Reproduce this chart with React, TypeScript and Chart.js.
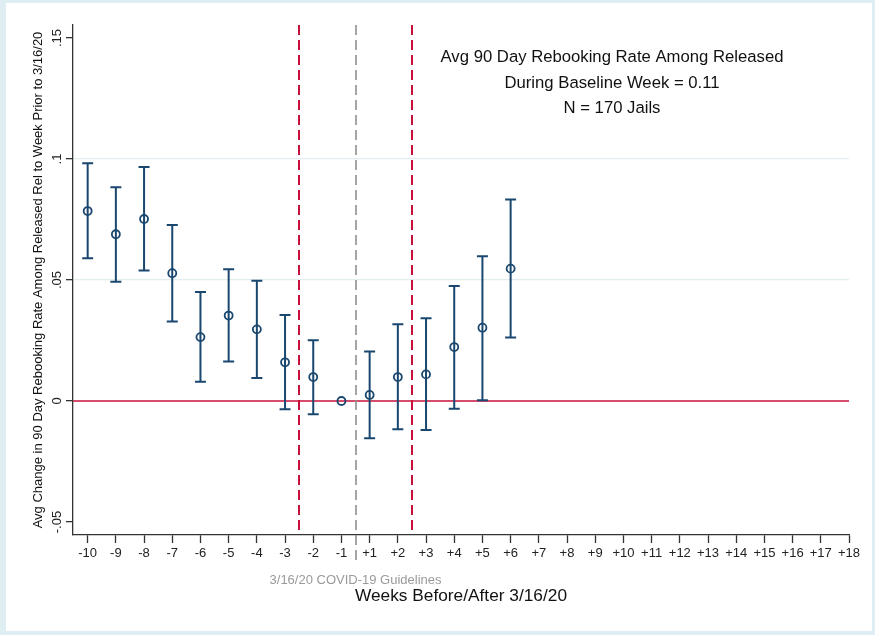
import { useEffect, useRef } from 'react';
import { Chart, registerables } from 'chart.js';

Chart.register(...registerables);

// Event-time labels (weeks relative to 3/16/20)
const weekLabels = [
  '-10', '-9', '-8', '-7', '-6', '-5', '-4', '-3', '-2', '-1',
  '+1', '+2', '+3', '+4', '+5', '+6', '+7', '+8', '+9', '+10',
  '+11', '+12', '+13', '+14', '+15', '+16', '+17', '+18',
];

// Point estimates and 95% CI bounds for weeks -10 .. +6 (week -1 is the baseline)
const estimate = [0.0785, 0.0689, 0.0752, 0.0528, 0.0264, 0.0353, 0.0296, 0.016, 0.0099, 0, 0.0025, 0.0099, 0.011, 0.0223, 0.0303, 0.0547];
const ciLow = [0.059, 0.0493, 0.0539, 0.0328, 0.008, 0.0163, 0.0095, -0.0034, -0.0055, null, -0.0154, -0.0117, -0.012, -0.0032, 0.0003, 0.0262];
const ciHigh = [0.0982, 0.0883, 0.0967, 0.0727, 0.045, 0.0544, 0.0497, 0.0355, 0.0251, null, 0.0205, 0.0317, 0.0342, 0.0475, 0.0598, 0.0833];

const yTicks = [-0.05, 0, 0.05, 0.1, 0.15];
const yTickLabels = ['-.05', '0', '.05', '.1', '.15'];
const yGridValues = [0.05, 0.1];

// Vertical reference lines, placed between event-time positions
const guidePositions = [7.5, 9.5, 11.5];
const guideKinds = ['window', 'policy', 'window'];

const noteLines = [
  'Avg 90 Day Rebooking Rate Among Released',
  'During Baseline Week = 0.11',
  'N = 170 Jails',
];
const policyLabel = '3/16/20 COVID-19 Guidelines';

const NAVY = '#1a476f';
const RED = '#c8103c';
const GRAY = '#8f8f8f';
const INK = '#222222';
const FONT = '"Liberation Sans", Arial, Helvetica, sans-serif';

const overlayPlugin = {
  id: 'eventStudyOverlay',
  beforeDatasetsDraw(chart: any) {
    const { ctx, chartArea: a, scales } = chart;
    const x = scales.x;
    const y = scales.y;
    ctx.save();

    // zero line
    const y0 = y.getPixelForValue(0);
    ctx.strokeStyle = RED;
    ctx.lineWidth = 1.6;
    ctx.setLineDash([]);
    ctx.beginPath();
    ctx.moveTo(a.left, y0);
    ctx.lineTo(a.right, y0);
    ctx.stroke();

    // dashed vertical guides
    guidePositions.forEach((pos, i) => {
      const px = Math.round(x.getPixelForValue(pos));
      const isPolicy = guideKinds[i] === 'policy';
      ctx.strokeStyle = isPolicy ? GRAY : RED;
      ctx.lineWidth = isPolicy ? 1.6 : 2;
      ctx.setLineDash([10, 5]);
      ctx.beginPath();
      ctx.moveTo(px, a.top);
      ctx.lineTo(px, a.bottom + (isPolicy ? 30 : 0));
      ctx.stroke();
    });

    // confidence interval bars
    ctx.setLineDash([]);
    ctx.strokeStyle = NAVY;
    ctx.lineWidth = 2;
    estimate.forEach((_, i) => {
      const lo = ciLow[i];
      const hi = ciHigh[i];
      if (lo === null || hi === null) return;
      const px = x.getPixelForValue(i);
      const pl = y.getPixelForValue(lo);
      const ph = y.getPixelForValue(hi);
      ctx.beginPath();
      ctx.moveTo(px, pl);
      ctx.lineTo(px, ph);
      ctx.moveTo(px - 5.5, pl);
      ctx.lineTo(px + 5.5, pl);
      ctx.moveTo(px - 5.5, ph);
      ctx.lineTo(px + 5.5, ph);
      ctx.stroke();
    });
    ctx.restore();
  },
  afterDraw(chart: any) {
    const { ctx, chartArea: a, scales } = chart;
    const x = scales.x;
    ctx.save();
    // note block
    ctx.fillStyle = '#111';
    ctx.font = `16.7px ${FONT}`;
    ctx.textAlign = 'center';
    ctx.textBaseline = 'alphabetic';
    const cx = a.left + 539;
    noteLines.forEach((t, i) => {
      ctx.fillText(t, cx, a.top + 37 + i * 25.5);
    });
    // policy label under the axis
    ctx.fillStyle = '#9a9a9a';
    ctx.font = `13px ${FONT}`;
    ctx.fillText(policyLabel, x.getPixelForValue(guidePositions[1]), a.bottom + 48.5);
    ctx.restore();
  },
};

export default function App() {
  const canvasRef = useRef<HTMLCanvasElement | null>(null);

  useEffect(() => {
    if (!canvasRef.current) return;
    const chart = new Chart(canvasRef.current, {
      type: 'scatter',
      data: {
        datasets: [
          {
            data: estimate.map((v, i) => ({ x: i, y: v })),
            pointStyle: 'circle',
            pointRadius: 4,
            pointBorderWidth: 1.8,
            pointBorderColor: NAVY,
            pointBackgroundColor: 'rgba(0,0,0,0)',
            showLine: false,
          },
        ],
      },
      options: {
        animation: false,
        responsive: true,
        maintainAspectRatio: false,
        layout: { padding: { top: 22, right: 23, bottom: 0, left: 0 } },
        plugins: {
          legend: { display: false },
          tooltip: { enabled: false },
        },
        scales: {
          x: {
            type: 'linear',
            min: -0.52,
            max: 27,
            afterBuildTicks: (s: any) => {
              s.ticks = weekLabels.map((_, i) => ({ value: i }));
            },
            afterFit: (s: any) => {
              s.height = 96;
            },
            grid: {
              drawOnChartArea: false,
              drawTicks: true,
              tickLength: 8,
              tickColor: '#333',
              tickWidth: 1.3,
            },
            border: { display: true, color: '#333', width: 1.3 },
            ticks: {
              autoSkip: false,
              minRotation: 0,
              maxRotation: 0,
              padding: 3,
              color: INK,
              font: { family: FONT, size: 13 },
              callback: (_v: any, i: number) => weekLabels[i],
            },
            title: {
              display: true,
              text: 'Weeks Before/After 3/16/20',
              color: '#111',
              font: { family: FONT, size: 17.3 },
              padding: { top: 0, bottom: 24 },
            },
          },
          y: {
            type: 'linear',
            min: -0.05537,
            max: 0.15537,
            afterBuildTicks: (s: any) => {
              s.ticks = yTicks.map((v) => ({ value: v }));
            },
            afterFit: (s: any) => {
              s.width = 67;
            },
            grid: {
              color: (c: any) => (c.tick && yGridValues.includes(c.tick.value) ? '#e3edf0' : 'rgba(0,0,0,0)'),
              lineWidth: 1.3,
              drawTicks: true,
              tickLength: 7,
              tickColor: '#333',
              tickWidth: 1.3,
            },
            border: { display: true, color: '#333', width: 1.3 },
            ticks: {
              minRotation: 90,
              maxRotation: 90,
              crossAlign: 'center',
              padding: -3,
              color: INK,
              font: { family: FONT, size: 13 },
              callback: (_v: any, i: number) => yTickLabels[i],
            },
            title: {
              display: true,
              text: 'Avg Change in 90 Day Rebooking Rate Among Released Rel to Week Prior to 3/16/20',
              color: '#111',
              font: { family: FONT, size: 13 },
              padding: { top: 25, bottom: 0 },
            },
          },
        },
      } as any,
      plugins: [overlayPlugin],
    });
    return () => chart.destroy();
  }, []);

  return (
    <div style={{ position: 'fixed', left: 0, top: 0, width: 875, height: 635, background: '#dfeef3' }}>
      <div style={{ position: 'absolute', left: 6, top: 3, width: 866, height: 628, background: '#ffffff' }}>
        <canvas ref={canvasRef} />
      </div>
    </div>
  );
}
